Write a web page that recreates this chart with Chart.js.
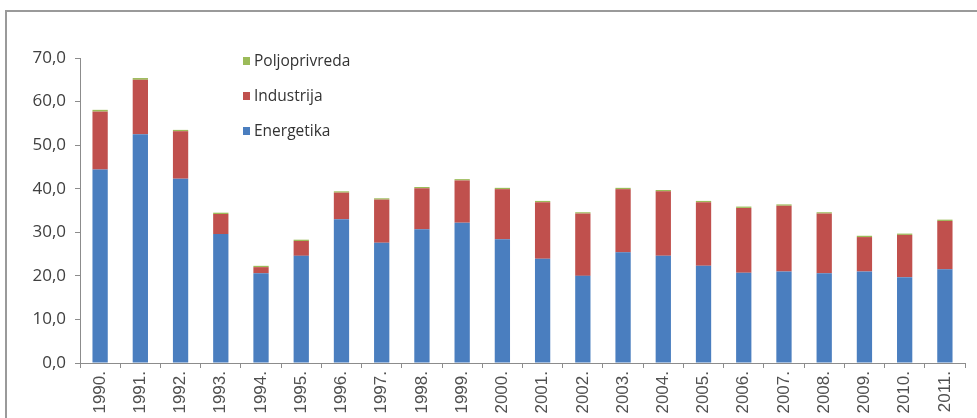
<!DOCTYPE html>
<html><head><meta charset="utf-8">
<script src="https://cdn.jsdelivr.net/npm/chart.js@4.4.1/dist/chart.umd.min.js"></script>
<style>
html,body{margin:0;padding:0;background:#fff;width:977px;height:418px;overflow:hidden;}
#frame{position:absolute;left:5px;top:10px;width:1000px;height:500px;border-left:2px solid #9a9a9a;border-top:2px solid #9a9a9a;}
#wrap{position:absolute;left:0;top:0;width:977px;height:418px;}
#legend{position:absolute;left:243px;top:50px;font-family:"Open Sans",sans-serif;font-size:15.5px;color:#333;}
.li{position:absolute;left:0;white-space:nowrap;height:20px;line-height:20px;}
.sw{display:inline-block;width:7px;height:8px;margin-right:4px;vertical-align:1px;}
</style></head>
<body>
<div id="frame"></div>
<div id="wrap"><canvas id="c" width="977" height="418"></canvas></div>
<div id="legend"></div>
<script>
const years = ["1990.","1991.","1992.","1993.","1994.","1995.","1996.","1997.","1998.","1999.","2000.","2001.","2002.","2003.","2004.","2005.","2006.","2007.","2008.","2009.","2010.","2011."];
const energetika = [44.4,52.5,42.3,29.6,20.6,24.6,33.0,27.6,30.7,32.2,28.4,23.9,20.0,25.4,24.6,22.3,20.7,21.0,20.6,21.0,19.7,21.5];
const industrija = [13.3,12.5,10.9,4.6,1.4,3.4,6.1,9.9,9.4,9.7,11.5,13.0,14.3,14.5,14.8,14.6,14.9,15.1,13.7,7.9,9.7,11.1];
const poljoprivreda = [0.4,0.4,0.3,0.3,0.3,0.3,0.3,0.3,0.3,0.3,0.3,0.3,0.3,0.3,0.3,0.3,0.3,0.3,0.3,0.3,0.3,0.3];
const yTicks = [0,10,20,30,40,50,60,70];
const seriesNames = ["Energetika","Industrija","Poljoprivreda"];
const seriesColors = ["#4a7ebf","#c0504d","#9bbb59"];

const datasets = [energetika, industrija, poljoprivreda].map((d,i)=>({
  label: seriesNames[i], data: d, backgroundColor: seriesColors[i], borderWidth: 0,
  categoryPercentage: 1.0, barPercentage: 0.38
}));

new Chart(document.getElementById('c'), {
  type: 'bar',
  data: { labels: years, datasets },
  options: {
    responsive: false, animation: false,
    layout: { padding: { top: 58, right: 12, left: 0, bottom: 0 } },
    plugins: { legend: { display: false }, tooltip: { enabled: false } },
    scales: {
      x: {
        stacked: true,
        grid: { display: true, drawOnChartArea: false, drawTicks: true, tickLength: 5, color: '#8c8c8c', offset: true },
        border: { display: true, color: '#8c8c8c', width: 1 },
        ticks: { maxRotation: 90, minRotation: 90, autoSkip: false, color: '#505050', padding: 3,
                 font: { family: '"Liberation Sans", Arial, sans-serif', size: 17 } },
        afterFit: s => { s.height = 55; }
      },
      y: {
        stacked: true, min: 0, max: 70,
        afterBuildTicks: s => { s.ticks = yTicks.map(v => ({ value: v })); },
        grid: { display: true, drawOnChartArea: false, drawTicks: true, tickLength: 5, color: '#8c8c8c' },
        border: { display: true, color: '#8c8c8c', width: 1 },
        ticks: { color: '#404040', padding: 9, font: { family: '"Open Sans", sans-serif', size: 17 },
                 callback: v => v.toFixed(1).replace('.', ',') },
        afterFit: s => { s.width = 80; }
      }
    }
  }
});

const leg = document.getElementById('legend');
[2,1,0].forEach((i,k)=>{
  const el = document.createElement('div');
  el.className = 'li';
  el.style.top = (k*35) + 'px';
  el.innerHTML = '<span class="sw" style="background:'+seriesColors[i]+'"></span>'+seriesNames[i];
  leg.appendChild(el);
});
</script>
</body></html>
